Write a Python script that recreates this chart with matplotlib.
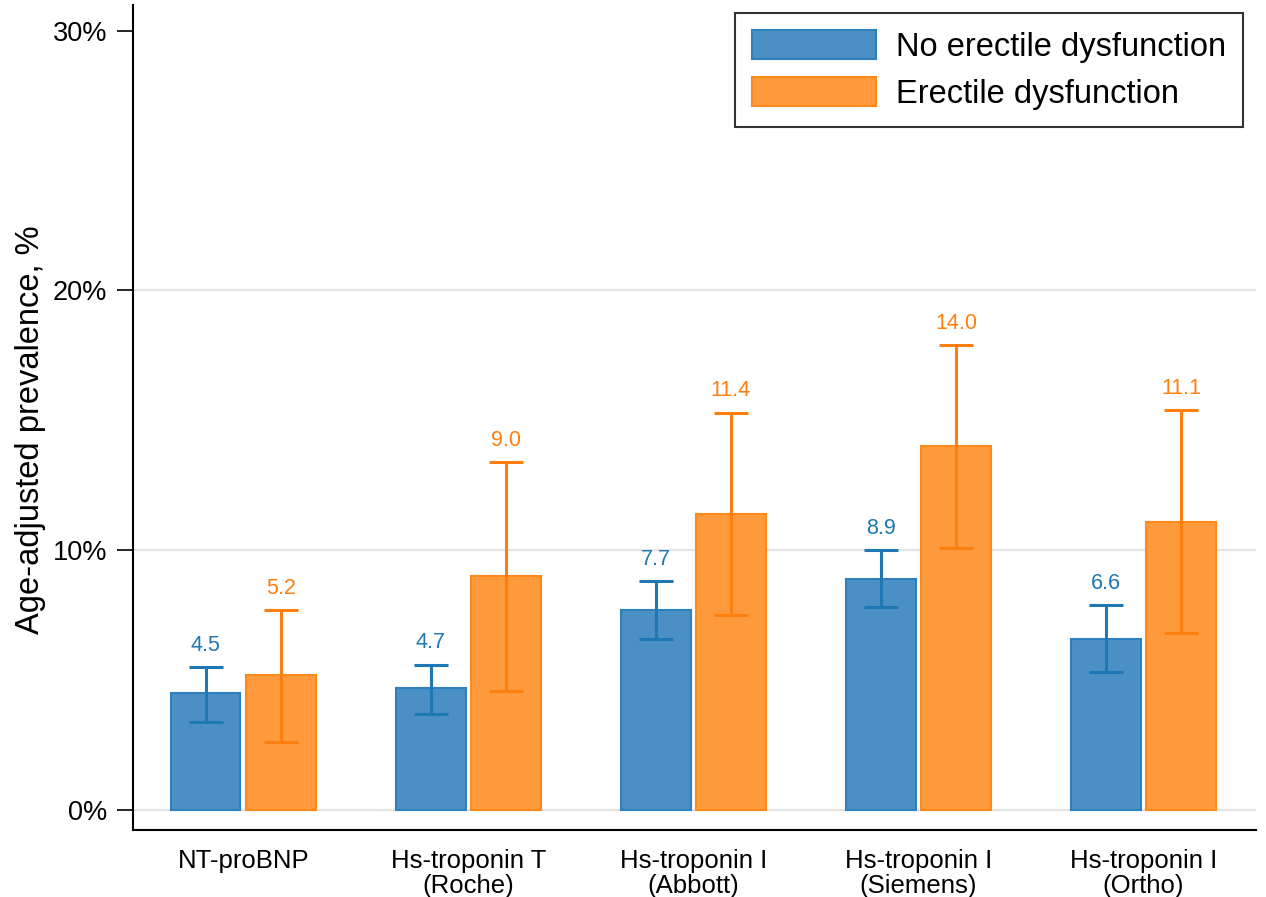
import matplotlib
matplotlib.use("Agg")
import matplotlib.pyplot as plt
import numpy as np
from matplotlib.patches import Patch

categories = ["NT-proBNP", "Hs-troponin T\n(Roche)", "Hs-troponin I\n(Abbott)",
              "Hs-troponin I\n(Siemens)", "Hs-troponin I\n(Ortho)"]
no_ed = [4.5, 4.7, 7.7, 8.9, 6.6]
no_ed_lo = [3.4, 3.7, 6.6, 7.8, 5.3]
no_ed_hi = [5.5, 5.6, 8.8, 10.0, 7.9]
ed = [5.2, 9.0, 11.4, 14.0, 11.1]
ed_lo = [2.6, 4.6, 7.5, 10.1, 6.8]
ed_hi = [7.7, 13.4, 15.3, 17.9, 15.4]
series_names = ["No erectile dysfunction", "Erectile dysfunction"]
yticks = [0, 10, 20, 30]
ytick_labels = ["0%", "10%", "20%", "30%"]

plt.rcParams['font.family'] = ['Liberation Sans', 'DejaVu Sans']

blue_fill, blue_edge, blue_err = '#4A90C4', '#2F80BE', '#1F77B4'
orange_fill, orange_edge, orange_err = '#FF9A3C', '#FF8A1A', '#FF7F0E'

fig = plt.figure(figsize=(12.66, 8.97), dpi=100)
ax = fig.add_axes([0.105, 0.0747, 0.887, 0.92])

x = np.arange(len(categories))
w = 0.31
off = 0.167

def draw(xpos, vals, lo, hi, fill, edge, errc):
    ax.bar(xpos, vals, width=w, color=fill, edgecolor=edge, linewidth=1.5, zorder=2)
    vals = np.array(vals); lo = np.array(lo); hi = np.array(hi)
    ax.errorbar(xpos, vals, yerr=[vals - lo, hi - vals], fmt='none', ecolor=errc,
                elinewidth=2.2, capsize=12, capthick=2.2, zorder=3)
    for xi, v, h in zip(xpos, vals, hi):
        ax.annotate(f"{v:.1f}", (xi, h), xytext=(0, 8), textcoords='offset points',
                    ha='center', va='bottom', fontsize=15.5, color=errc)

draw(x - off, no_ed, no_ed_lo, no_ed_hi, blue_fill, blue_edge, blue_err)
draw(x + off, ed, ed_lo, ed_hi, orange_fill, orange_edge, orange_err)

ax.set_xlim(-0.49, 4.5)
ax.set_ylim(-0.77, 31)
ax.set_yticks(yticks)
ax.set_yticklabels(ytick_labels, fontsize=19.5)
ax.set_xticks(x)
ax.set_xticklabels(categories, fontsize=18.5, linespacing=1.05)
ax.tick_params(axis='x', length=0, pad=14)
ax.tick_params(axis='y', length=11.5, width=1.2, direction='out', pad=7)
ax.set_ylabel("Age-adjusted prevalence, %", fontsize=23.5, labelpad=5)
ax.yaxis.label.set_y(0.485)

for yv in [0, 10, 20]:
    ax.axhline(yv, color='#e3e3e3', linewidth=1.5, zorder=0)

for s in ['top', 'right']:
    ax.spines[s].set_visible(False)
for s in ['left', 'bottom']:
    ax.spines[s].set_linewidth(1.5)

handles = [Patch(facecolor=blue_fill, edgecolor=blue_edge, linewidth=1.5),
           Patch(facecolor=orange_fill, edgecolor=orange_edge, linewidth=1.5)]
leg = ax.legend(handles, series_names, loc='upper right', bbox_to_anchor=(0.9885, 0.99),
                fontsize=23.5, frameon=True, fancybox=False, edgecolor='black',
                handlelength=3.8, handleheight=0.98, handletextpad=0.6,
                borderpad=0.52, labelspacing=0.45, borderaxespad=0)
leg.get_frame().set_linewidth(1.5)

fig.savefig("out.png", dpi=100)
